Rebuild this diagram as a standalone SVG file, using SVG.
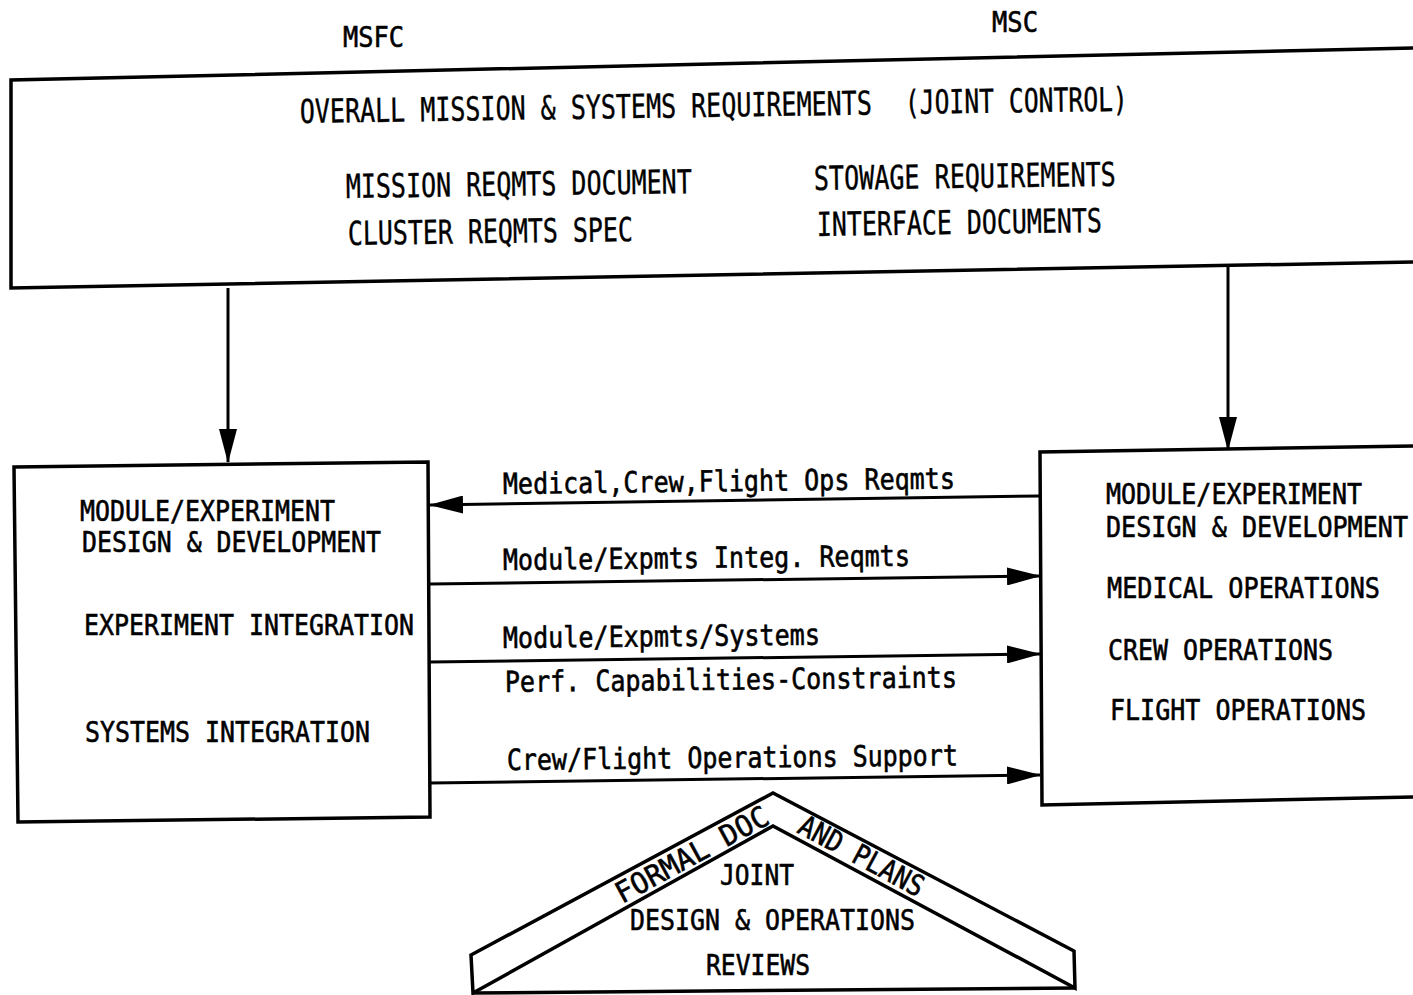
<svg xmlns="http://www.w3.org/2000/svg" width="1413" height="995" viewBox="0 0 1413 995">
  <defs>
    <marker id="head" viewBox="0 0 34 18" refX="33" refY="9" markerWidth="34" markerHeight="18" markerUnits="userSpaceOnUse" orient="auto">
      <path d="M0,0 L34,9 L0,18 Z" fill="#000"/>
    </marker>
    <style>
      .t { font-family: "DejaVu Sans Mono", "Liberation Mono", monospace; font-size: 29px; fill: #000; stroke: #000; stroke-width: 0.6; }
      .tt { font-family: "DejaVu Sans Mono", "Liberation Mono", monospace; font-size: 33px; fill: #000; stroke: #000; stroke-width: 0.4; }
      .edge { fill: none; stroke: #000; stroke-width: 3.5; stroke-linejoin: miter; }
      .conn { fill: none; stroke: #000; stroke-width: 3; }
    </style>
  </defs>
  <rect width="1413" height="995" fill="#fff"/>

  <!-- organisation headings -->
  <g id="headings">
    <text class="t" x="343" y="47" textLength="61" lengthAdjust="spacingAndGlyphs">MSFC</text>
    <text class="t" x="992" y="32" textLength="46" lengthAdjust="spacingAndGlyphs">MSC</text>
  </g>

  <!-- joint requirements block (runs off the right edge) -->
  <g id="requirements">
    <path class="edge" d="M1413,48 L11,80 L11,288 L1413,262" stroke-width="4"/>
    <text class="tt" transform="translate(300,123) rotate(-0.85)" textLength="572" lengthAdjust="spacingAndGlyphs">OVERALL MISSION &amp; SYSTEMS REQUIREMENTS</text>
    <text class="tt" transform="translate(905,114) rotate(-0.85)" textLength="223" lengthAdjust="spacingAndGlyphs">(JOINT CONTROL)</text>
    <text class="tt" transform="translate(346,198) rotate(-0.8)" textLength="346" lengthAdjust="spacingAndGlyphs">MISSION REQMTS DOCUMENT</text>
    <text class="tt" transform="translate(814,190) rotate(-0.8)" textLength="302" lengthAdjust="spacingAndGlyphs">STOWAGE REQUIREMENTS</text>
    <text class="tt" transform="translate(348,245) rotate(-0.8)" textLength="285" lengthAdjust="spacingAndGlyphs">CLUSTER REQMTS SPEC</text>
    <text class="tt" transform="translate(817,236) rotate(-0.8)" textLength="285" lengthAdjust="spacingAndGlyphs">INTERFACE DOCUMENTS</text>
  </g>

  <!-- MSFC block -->
  <g id="msfc">
    <path class="edge" d="M14,467 L428,462 L430,817 L18,822 Z" stroke-width="4"/>
    <text class="t" x="80" y="521" textLength="255" lengthAdjust="spacingAndGlyphs">MODULE/EXPERIMENT</text>
    <text class="t" x="82" y="552" textLength="299" lengthAdjust="spacingAndGlyphs">DESIGN &amp; DEVELOPMENT</text>
    <text class="t" x="84" y="635" textLength="330" lengthAdjust="spacingAndGlyphs">EXPERIMENT INTEGRATION</text>
    <text class="t" x="85" y="742" textLength="285" lengthAdjust="spacingAndGlyphs">SYSTEMS INTEGRATION</text>
  </g>

  <!-- MSC block (runs off the right edge) -->
  <g id="msc">
    <path class="edge" d="M1413,446 L1040,452 L1042,805 L1413,797" stroke-width="4"/>
    <text class="t" x="1106" y="504" textLength="256" lengthAdjust="spacingAndGlyphs">MODULE/EXPERIMENT</text>
    <text class="t" x="1106" y="537" textLength="302" lengthAdjust="spacingAndGlyphs">DESIGN &amp; DEVELOPMENT</text>
    <text class="t" x="1107" y="598" textLength="273" lengthAdjust="spacingAndGlyphs">MEDICAL OPERATIONS</text>
    <text class="t" x="1108" y="660" textLength="225" lengthAdjust="spacingAndGlyphs">CREW OPERATIONS</text>
    <text class="t" x="1110" y="720" textLength="256" lengthAdjust="spacingAndGlyphs">FLIGHT OPERATIONS</text>
  </g>

  <!-- joint reviews roof -->
  <g id="reviews">
    <path class="edge" d="M471,955 L773,793 L1074,951 L1075,988 L773,826 L473,993 Z" stroke-width="3"/>
    <path class="edge" d="M473,993 L1075,988" stroke-width="3"/>
    <text class="t" transform="translate(622,904) rotate(-28.5)" textLength="170" lengthAdjust="spacingAndGlyphs">FORMAL  DOC</text>
    <text class="t" transform="translate(796,832) rotate(28.3)" textLength="138" lengthAdjust="spacingAndGlyphs">AND  PLANS</text>
    <text class="t" x="720" y="885" textLength="74" lengthAdjust="spacingAndGlyphs">JOINT</text>
    <text class="t" x="630" y="930" textLength="285" lengthAdjust="spacingAndGlyphs">DESIGN &amp; OPERATIONS</text>
    <text class="t" x="706" y="975" textLength="104" lengthAdjust="spacingAndGlyphs">REVIEWS</text>
  </g>

  <!-- connectors -->
  <g id="connectors">
    <line class="conn" x1="228" y1="288" x2="228" y2="462" marker-end="url(#head)"/>
    <line class="conn" x1="1228" y1="264" x2="1228" y2="450" marker-end="url(#head)"/>
    <line class="conn" x1="1040" y1="496" x2="430" y2="505" marker-end="url(#head)"/>
    <line class="conn" x1="430" y1="584" x2="1040" y2="576" marker-end="url(#head)"/>
    <line class="conn" x1="430" y1="662" x2="1040" y2="654" marker-end="url(#head)"/>
    <line class="conn" x1="430" y1="783" x2="1040" y2="775" marker-end="url(#head)"/>
    <text class="t" transform="translate(503,494) rotate(-0.7)" textLength="452" lengthAdjust="spacingAndGlyphs">Medical,Crew,Flight Ops Reqmts</text>
    <text class="t" transform="translate(503,570) rotate(-0.6)" textLength="407" lengthAdjust="spacingAndGlyphs">Module/Expmts Integ. Reqmts</text>
    <text class="t" transform="translate(503,648) rotate(-0.6)" textLength="317" lengthAdjust="spacingAndGlyphs">Module/Expmts/Systems</text>
    <text class="t" transform="translate(505,692) rotate(-0.6)" textLength="452" lengthAdjust="spacingAndGlyphs">Perf. Capabilities-Constraints</text>
    <text class="t" transform="translate(507,770) rotate(-0.6)" textLength="451" lengthAdjust="spacingAndGlyphs">Crew/Flight Operations Support</text>
  </g>
</svg>
